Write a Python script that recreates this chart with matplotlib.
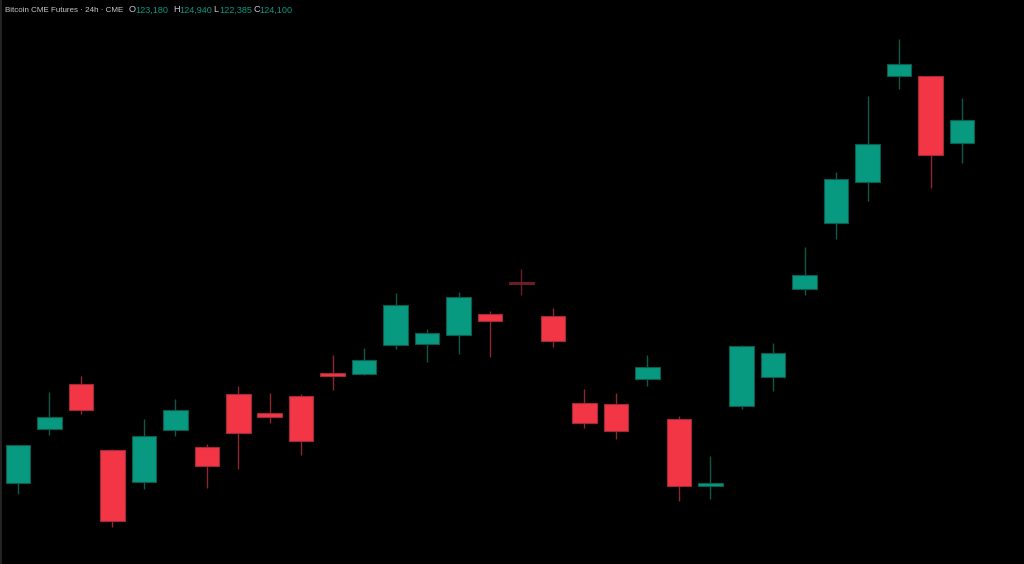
import matplotlib
matplotlib.use("Agg")
import matplotlib.pyplot as plt
import numpy as np

# daily candles
opens  = [109694, 111857, 113615, 111001, 109758, 111793, 111120, 113219, 112466, 113140,
          114050, 114011, 115183, 115211, 115579, 116387, 117654, 116331, 112886, 112835,
          113813, 112241, 109576, 112767, 113916, 117389, 120014, 121614, 125823, 125812,
          123180]
highs  = [111230, 113298, 113943, 111040, 112241, 113044, 111251, 113547, 113270, 113242,
          114775, 115052, 117230, 115793, 117258, 116517, 118181, 116636, 113440, 113270,
          114763, 112359, 110775, 115171, 115238, 119064, 122010, 125031, 127289, 125830,
          124940]
lows   = [109283, 111619, 112439, 107964, 109469, 111567, 109496, 110272, 112070, 110815,
          113389, 113983, 115024, 114510, 114815, 114696, 117163, 115104, 111896, 111437,
          113559, 108993, 109073, 112648, 113361, 117139, 119380, 120885, 125297, 121400,
          122385]
closes = [111211, 112320, 112585, 108190, 111567, 112585, 110368, 111674, 112308, 111381,
          113943, 114577, 116755, 115634, 117084, 116110, 117598, 115329, 112070, 111765,
          114288, 109587, 109694, 115131, 114842, 117943, 121756, 123119, 126310, 122707,
          124100]
faded = [16]  # greyed-out bar
title = "Bitcoin CME Futures \u00b7 24h \u00b7 CME"

UP, DOWN = "#089981", "#F23645"
UP_EDGE, DOWN_EDGE = "#0b5c4e", "#a02a35"
UP_WICK, DOWN_WICK = "#0d5a4c", "#8e2732"
FADED = "#6a1d25"
GREY = "#c8cad0"

fig = plt.figure(figsize=(10.24, 5.64), dpi=100, facecolor="black")
ax = fig.add_axes([0, 0, 1, 1])
ax.set_facecolor("black")

n = len(opens)
xs = np.arange(n)
o = np.array(opens); h = np.array(highs); l = np.array(lows); c = np.array(closes)
up = c >= o

ylo, yhi = 106499, 128833
px = (yhi - ylo) / 564.0

for i in range(n):
    if i in faded:
        body_col = edge_col = wick_col = FADED
    elif up[i]:
        body_col, edge_col, wick_col = UP, UP_EDGE, UP_WICK
    else:
        body_col, edge_col, wick_col = DOWN, DOWN_EDGE, DOWN_WICK
    ax.vlines(xs[i], l[i], h[i], color=wick_col, lw=1.0, zorder=1)
    bot = min(o[i], c[i])
    hgt = max(abs(c[i] - o[i]), 1.5 * px)
    ax.bar(xs[i], hgt, bottom=bot, width=0.78, color=body_col,
           edgecolor=edge_col, linewidth=0.8, zorder=2)

ax.set_xlim(-0.572, 31.97)
ax.set_ylim(ylo, yhi)
ax.axis("off")

# left border line
fig.add_artist(plt.Line2D([0.0007, 0.0007], [0, 1], color="#2a2a2a", lw=1.2))

# header
yt = 1 - 10 / 564
r = fig.canvas.get_renderer()

def fit_text(x, s, width, color, size=8.0):
    t = fig.text(x / 1024, yt, s, color=color, family="Liberation Sans",
                 fontsize=size, va="center")
    w = t.get_window_extent(r).width
    t.set_fontsize(size * width / w)
    return t

fit_text(5, title, 119, GREY)
labels = ["O", "H", "L", "C"]
vals = [opens[-1], highs[-1], lows[-1], closes[-1]]
lab_x = [129, 173, 213, 253]
for lab, v, x in zip(labels, vals, lab_x):
    vt = fit_text(x + 6, f"{v:,}", 33, UP)
    fig.text(x / 1024, yt, lab, color=GREY, family="Liberation Sans",
             fontsize=vt.get_fontsize(), va="center")

fig.savefig("out.png", dpi=100, facecolor="black")
